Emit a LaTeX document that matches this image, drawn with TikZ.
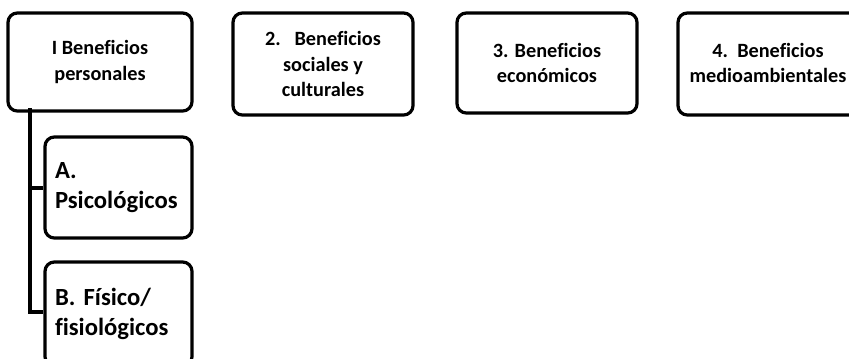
\documentclass[tikz,border=0pt]{standalone}
\usepackage{fontspec}
\setmainfont[Ligatures=NoCommon]{Carlito}
\begin{document}
\begin{tikzpicture}[x=0.75pt,y=-0.75pt,
  box/.style={draw=black, line width=2.4pt, rounded corners=7pt, fill=white, inner sep=0pt, align=center,
    font=\bfseries\fontsize{15.2}{19}\selectfont},
  subbox/.style={box, align=left, font=\bfseries\fontsize{18.5}{22}\selectfont},
  link/.style={draw=black, line width=3pt}]
\useasboundingbox (0,0) rectangle (849,358);
\clip (0,0) rectangle (849,358);
\node[box, minimum width=184*0.75pt, minimum height=98*0.75pt] (b1) at (100,62) {I Beneficios\\personales};
\node[box, minimum width=180*0.75pt, minimum height=102*0.75pt] (b2) at (323,64) {2.\ \ \ Beneficios\\sociales y\\culturales};
\node[box, minimum width=180*0.75pt, minimum height=100*0.75pt] (b3) at (547,63) {3. Beneficios\\económicos};
\node[box, minimum width=180*0.75pt, minimum height=102*0.75pt] (b4) at (768,64) {};
\node[font=\bfseries\fontsize{15.2}{19}\selectfont, align=center, inner sep=0pt] (t4) at (768,63) {4.\ \ Beneficios\\medioambientales};
\coordinate (trunk) at (30,108);
\node[subbox, minimum width=147*0.75pt, minimum height=101*0.75pt, text width=127*0.75pt] (bA) at (118.5,187.5) {A.\\Psicológicos};
\node[subbox, minimum width=147*0.75pt, minimum height=104*0.75pt, text width=127*0.75pt] (bB) at (118.5,314) {B. Físico/\\fisiológicos};
\coordinate (bBjoin) at (bB.west |- 0,312);
\draw[link] (trunk) |- (bA.west);
\draw[link] (trunk) |- (bBjoin);
\end{tikzpicture}
\end{document}
